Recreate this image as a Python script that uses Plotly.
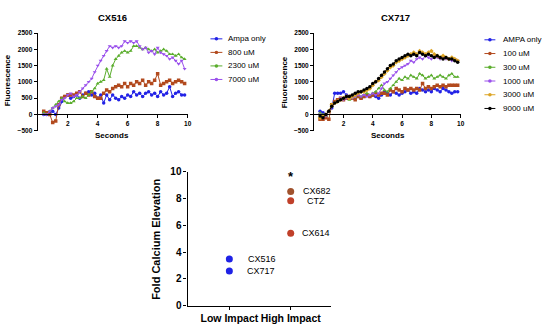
import plotly.graph_objects as go

W, H = 550, 333

TIME = [0.4, 0.6, 0.8, 1.0, 1.2, 1.4, 1.6, 1.8, 2.0, 2.2, 2.4, 2.6,
        2.8, 3.0, 3.2, 3.4, 3.6, 3.8, 4.0, 4.2, 4.4, 4.6, 4.8, 5.0,
        5.2, 5.4, 5.6, 5.8, 6.0, 6.2, 6.4, 6.6, 6.8, 7.0, 7.2, 7.4,
        7.6, 7.8, 8.0, 8.2, 8.4, 8.6, 8.8, 9.0, 9.2, 9.4, 9.6, 9.8]

# ---- CX516 panel ----
CX516_LABELS = ["Ampa only", "800 uM", "2300 uM", "7000 uM"]
cx516_ampa = [0, 0, 50, 100, 0, 200, 400, 550, 600, 500, 550, 600,
              500, 600, 650, 700, 600, 650, 500, 600, 350, 600, 450, 600,
              500, 450, 550, 500, 600, 550, 700, 600, 650, 550, 650, 700,
              600, 650, 550, 700, 600, 650, 850, 550, 650, 700, 600, 600]
cx516_800 = [100, 50, 0, -250, -200, 300, 500, 550, 600, 600, 600, 650,
             700, 550, 650, 600, 700, 550, 500, 500, 650, 750, 700, 800,
             850, 900, 850, 950, 850, 950, 900, 1000, 950, 1050, 900, 1000,
             950, 1050, 1250, 900, 950, 1000, 1050, 950, 1000, 1050, 1000, 950]
cx516_2300 = [50, 0, 100, 200, 300, 400, 500, 400, 350, 350, 400, 500,
              500, 550, 500, 600, 700, 800, 950, 1000, 1050, 1400, 1150, 1500,
              1700, 1800, 1900, 1950, 1900, 1950, 2100, 2100, 2050, 2000, 2050, 2000,
              1950, 2000, 1900, 1950, 2000, 1950, 1850, 1850, 1800, 1850, 1750, 1700]
cx516_7000 = [0, 0, 100, 200, 250, 300, 450, 500, 600, 650, 550, 600,
              700, 800, 900, 1000, 1100, 1300, 1500, 1650, 1800, 1950, 2100, 2050,
              2100, 2050, 2100, 2250, 2200, 2250, 2200, 2250, 2100, 2000, 2050, 1900,
              1950, 1850, 2050, 1900, 1850, 1800, 1700, 1750, 1650, 1550, 1650, 1400]
CX516_SERIES = [cx516_ampa, cx516_800, cx516_2300, cx516_7000]

# ---- CX717 panel ----
CX717_LABELS = ["AMPA only", "100 uM", "300 uM", "1000 uM", "3000 uM", "9000 uM"]
cx717_ampa = [100, 50, 0, 100, 200, 650, 650, 650, 700, 600, 550, 500,
              600, 550, 500, 550, 600, 550, 600, 550, 500, 600, 700, 650,
              600, 700, 650, 600, 650, 700, 750, 650, 700, 650, 800, 750,
              700, 750, 700, 800, 750, 700, 800, 750, 700, 650, 700, 700]
cx717_100 = [-150, -150, -100, -150, 300, 400, 450, 500, 450, 500, 550, 500,
             450, 550, 500, 550, 600, 550, 600, 650, 600, 650, 650, 600,
             750, 700, 800, 750, 700, 800, 750, 800, 750, 800, 750, 950,
             800, 850, 800, 850, 900, 850, 900, 850, 900, 900, 900, 900]
cx717_300 = [50, 0, -50, 100, 250, 350, 400, 450, 500, 550, 450, 500,
             550, 600, 550, 600, 650, 600, 650, 700, 800, 900, 750, 700,
             800, 900, 1000, 1100, 1050, 1150, 1100, 1200, 1150, 1100, 1250, 1200,
             1100, 1150, 1200, 1100, 1150, 1200, 1150, 1100, 1200, 1250, 1150, 1150]
cx717_1000 = [0, -100, -50, 100, 250, 350, 400, 500, 450, 500, 550, 500,
              550, 600, 550, 600, 550, 600, 650, 600, 650, 800, 950, 1000,
              1100, 1200, 1300, 1400, 1450, 1500, 1550, 1650, 1600, 1700, 1750, 1700,
              1800, 1750, 1700, 1800, 1750, 1700, 1750, 1700, 1700, 1650, 1700, 1650]
cx717_3000 = [-100, -50, 0, 100, 300, 350, 400, 450, 500, 550, 500, 550,
              600, 650, 700, 700, 750, 800, 900, 1000, 1050, 1150, 1250, 1350,
              1450, 1500, 1600, 1650, 1700, 1750, 1800, 1850, 1900, 1850, 1950, 1900,
              1850, 1900, 1950, 1850, 1800, 1750, 1800, 1750, 1700, 1750, 1700, 1650]
cx717_9000 = [-50, -100, 0, 100, 250, 350, 400, 450, 500, 550, 550, 600,
              650, 700, 700, 750, 800, 850, 950, 1000, 1100, 1200, 1300, 1400,
              1500, 1550, 1650, 1700, 1750, 1800, 1850, 1800, 1850, 1800, 1900, 1850,
              1800, 1850, 1800, 1750, 1800, 1750, 1700, 1750, 1700, 1700, 1650, 1600]
CX717_SERIES = [cx717_ampa, cx717_100, cx717_300, cx717_1000, cx717_3000, cx717_9000]

# ---- Summary panel ----
SUM_CATEGORIES = ["Low Impact", "High Impact"]
SUM_NAMES = ["CX516", "CX717", "CX682", "CTZ", "CX614"]
SUM_GROUP = [0, 0, 1, 1, 1]
SUM_VALUES = [3.5, 2.6, 8.55, 7.85, 5.42]

Y_TICKS_TOP = [-500, 0, 500, 1000, 1500, 2000, 2500]
X_TICKS_TOP = [2, 4, 6, 8, 10]
Y_TICKS_SUM = [0, 2, 4, 6, 8, 10]

# styles
FONT = "Liberation Sans, Arial, sans-serif"
COL516 = ["#2222e6", "#b24a1e", "#5aad2c", "#9a50ec"]
SYM516 = ["circle", "square", "triangle-up", "triangle-down"]
COL717 = ["#2222e6", "#b24a1e", "#5aad2c", "#9a50ec", "#dca424", "#000000"]
SYM717 = ["circle", "square", "triangle-up", "triangle-down", "diamond", "circle"]
SUM_COLORS = ["#1f22e6", "#1f22e6", "#a0522d", "#c0402a", "#c0402a"]
LABEL_SHIFT = [17, 16, 10, 14, 9]


def px(x):
    return x / W


def py(y):
    return 1 - y / H


fig = go.Figure()

for vals, name, c, s in zip(CX516_SERIES, CX516_LABELS, COL516, SYM516):
    fig.add_trace(go.Scatter(x=TIME, y=vals, name=name, mode="lines+markers",
                             line=dict(color=c, width=1),
                             marker=dict(color=c, size=3.5, symbol=s),
                             xaxis="x", yaxis="y", showlegend=False))
for vals, name, c, s in zip(CX717_SERIES, CX717_LABELS, COL717, SYM717):
    fig.add_trace(go.Scatter(x=TIME, y=vals, name=name, mode="lines+markers",
                             line=dict(color=c, width=1),
                             marker=dict(color=c, size=3.5, symbol=s),
                             xaxis="x2", yaxis="y2", showlegend=False))

fig.add_trace(go.Scatter(x=SUM_GROUP, y=SUM_VALUES, mode="markers",
                         marker=dict(color=SUM_COLORS, size=7),
                         xaxis="x3", yaxis="y3", showlegend=False))

tickfont_top = dict(family=FONT, size=6.5, color="black", weight="bold")
axis_common = dict(showline=True, linecolor="black", linewidth=1.3,
                   ticks="outside", ticklen=3, tickwidth=1.3, tickcolor="black",
                   showgrid=False, zeroline=False)

top_ydom = [py(130), py(29)]
fig.update_layout(
    xaxis=dict(domain=[px(38), px(189)], range=[0, 10], tickvals=X_TICKS_TOP,
               anchor="free", position=py(113), tickfont=tickfont_top, tickangle=0,
               **axis_common),
    yaxis=dict(domain=top_ydom, range=[-500, 2500], tickvals=Y_TICKS_TOP,
               anchor="x", tickfont=tickfont_top, **axis_common),
    xaxis2=dict(domain=[px(316.5), px(464)], range=[0, 10], tickvals=X_TICKS_TOP,
                anchor="free", position=py(113), tickfont=tickfont_top, tickangle=0,
                **axis_common),
    yaxis2=dict(domain=top_ydom, range=[-500, 2500], tickvals=Y_TICKS_TOP,
                anchor="x2", tickfont=tickfont_top, **axis_common),
    xaxis3=dict(domain=[px(189), px(333)], range=[-0.68, 1.65], tickvals=[0, 1],
                ticktext=SUM_CATEGORIES, anchor="y3", tickangle=0,
                tickfont=dict(family=FONT, size=10.5, color="black", weight="bold"),
                **axis_common),
    yaxis3=dict(domain=[py(311), py(172.7)], range=[0, 10], tickvals=Y_TICKS_SUM,
                anchor="x3",
                tickfont=dict(family=FONT, size=10, color="black", weight="bold"),
                **axis_common),
)

ann = []


def add_text(text, x, y, size, angle=0, bold=True):
    ann.append(dict(text=f"<b>{text}</b>" if bold else text, x=px(x), y=py(y),
                    xref="paper", yref="paper", xanchor="center", yanchor="middle",
                    showarrow=False, textangle=angle,
                    font=dict(family=FONT, size=size, color="black")))


add_text("CX516", 113, 13, 9.5)
add_text("CX717", 398, 13, 9.5)
add_text("Seconds", 113, 135, 8)
add_text("Seconds", 391, 135, 8)
add_text("Fluorescence", 7, 78, 8, angle=-90)
add_text("Fluorescence", 286, 80, 8, angle=-90)
add_text("Fold Calcium Elevation", 157, 242, 11, angle=-90)

for g, v, n, sh in zip(SUM_GROUP, SUM_VALUES, SUM_NAMES, LABEL_SHIFT):
    ann.append(dict(text=n, x=g, y=v, xref="x3", yref="y3", xanchor="left",
                    yanchor="middle", xshift=sh, showarrow=False,
                    font=dict(family=FONT, size=9, color="black")))
ann.append(dict(text="<b>*</b>", x=1, y=9.65, xref="x3", yref="y3", showarrow=False,
                xanchor="center", yanchor="middle",
                font=dict(family=FONT, size=13, color="black")))

shapes = []


def legend(labels, colors, x_line0, x_line1, x_text, y0, dy):
    for i, (lab, c) in enumerate(zip(labels, colors)):
        yy = y0 + i * dy
        shapes.append(dict(type="line", xref="paper", yref="paper",
                           x0=px(x_line0), x1=px(x_line1), y0=py(yy), y1=py(yy),
                           line=dict(color=c, width=1)))
        xm = (x_line0 + x_line1) / 2
        shapes.append(dict(type="circle", xref="paper", yref="paper",
                           x0=px(xm - 1.8), x1=px(xm + 1.8), y0=py(yy + 1.8), y1=py(yy - 1.8),
                           fillcolor=c, line=dict(color=c, width=0)))
        ann.append(dict(text=lab, x=px(x_text), y=py(yy), xref="paper", yref="paper",
                        xanchor="left", yanchor="middle", showarrow=False,
                        font=dict(family=FONT, size=8, color="black")))


legend(CX516_LABELS, COL516, 212, 224, 228, 35, 14)
legend(CX717_LABELS, COL717, 488, 499, 505, 36, 14.2)

fig.update_layout(annotations=ann, shapes=shapes, width=W, height=H,
                  margin=dict(l=0, r=0, t=0, b=0),
                  paper_bgcolor="white", plot_bgcolor="white",
                  font=dict(family=FONT, color="black"))

fig.write_html("out.html",
               config={"displayModeBar": False},
               post_script="document.body.style.margin='0';"
                           "document.body.style.overflow='hidden';")
